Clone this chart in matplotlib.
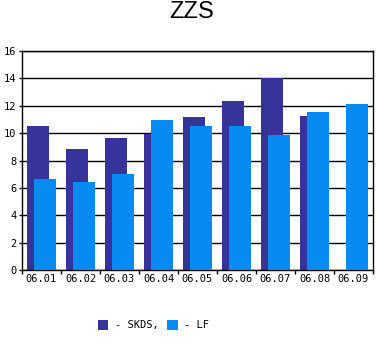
import matplotlib
matplotlib.use("Agg")
import matplotlib.pyplot as plt
import numpy as np

days = ["06.01", "06.02", "06.03", "06.04", "06.05", "06.06", "06.07", "06.08", "06.09"]
skds = [10.5, 8.85, 9.65, 9.9, 11.15, 12.35, 14.05, 11.25, 0.0]
lf = [6.65, 6.45, 7.0, 10.95, 10.5, 10.5, 9.85, 11.55, 12.1]

dark = "#36349a"
light = "#078bf2"

fig = plt.figure(figsize=(3.88, 3.5), dpi=100)
ax = fig.add_axes([22 / 388, 80 / 350, 351 / 388, 219 / 350])

x = np.arange(len(days))
w = 0.564
b1 = ax.bar(x - 0.09, skds, width=w, color=dark, zorder=2)
b2 = ax.bar(x + 0.09, lf, width=w, color=light, zorder=3)

ax.set_xlim(-0.5, len(days) - 0.5)
ax.set_ylim(0, 16)
ax.set_yticks(range(0, 17, 2))
ax.yaxis.grid(True, color="black", linewidth=1, zorder=1)
ax.set_axisbelow(True)

# category labels in the middle, ticks on the borders
ax.set_xticks(x)
ax.set_xticklabels(days)
ax.set_xticks(np.arange(-0.5, len(days)), minor=True)
ax.tick_params(axis="x", which="major", length=0, pad=3)
ax.tick_params(axis="x", which="minor", length=3, width=1, color="black")
ax.tick_params(axis="y", length=2, width=1, pad=2)
for lbl in ax.get_xticklabels() + ax.get_yticklabels():
    lbl.set_family("DejaVu Sans Mono")
    lbl.set_fontsize(7.5)

for s in ax.spines.values():
    s.set_linewidth(1)
    s.set_color("black")

fig.suptitle("ZZS", x=0.493, y=0.997, fontsize=17, family="Liberation Sans")

fig.legend([b1, b2], ["- SKDS,", "- LF"], loc="center",
           bbox_to_anchor=(0.395, 0.071), ncol=2, frameon=False,
           handlelength=1.05, handleheight=1.05, handletextpad=0.6,
           columnspacing=0.8, prop={"family": "DejaVu Sans Mono", "size": 7.5})

fig.savefig("out.png", dpi=100)
